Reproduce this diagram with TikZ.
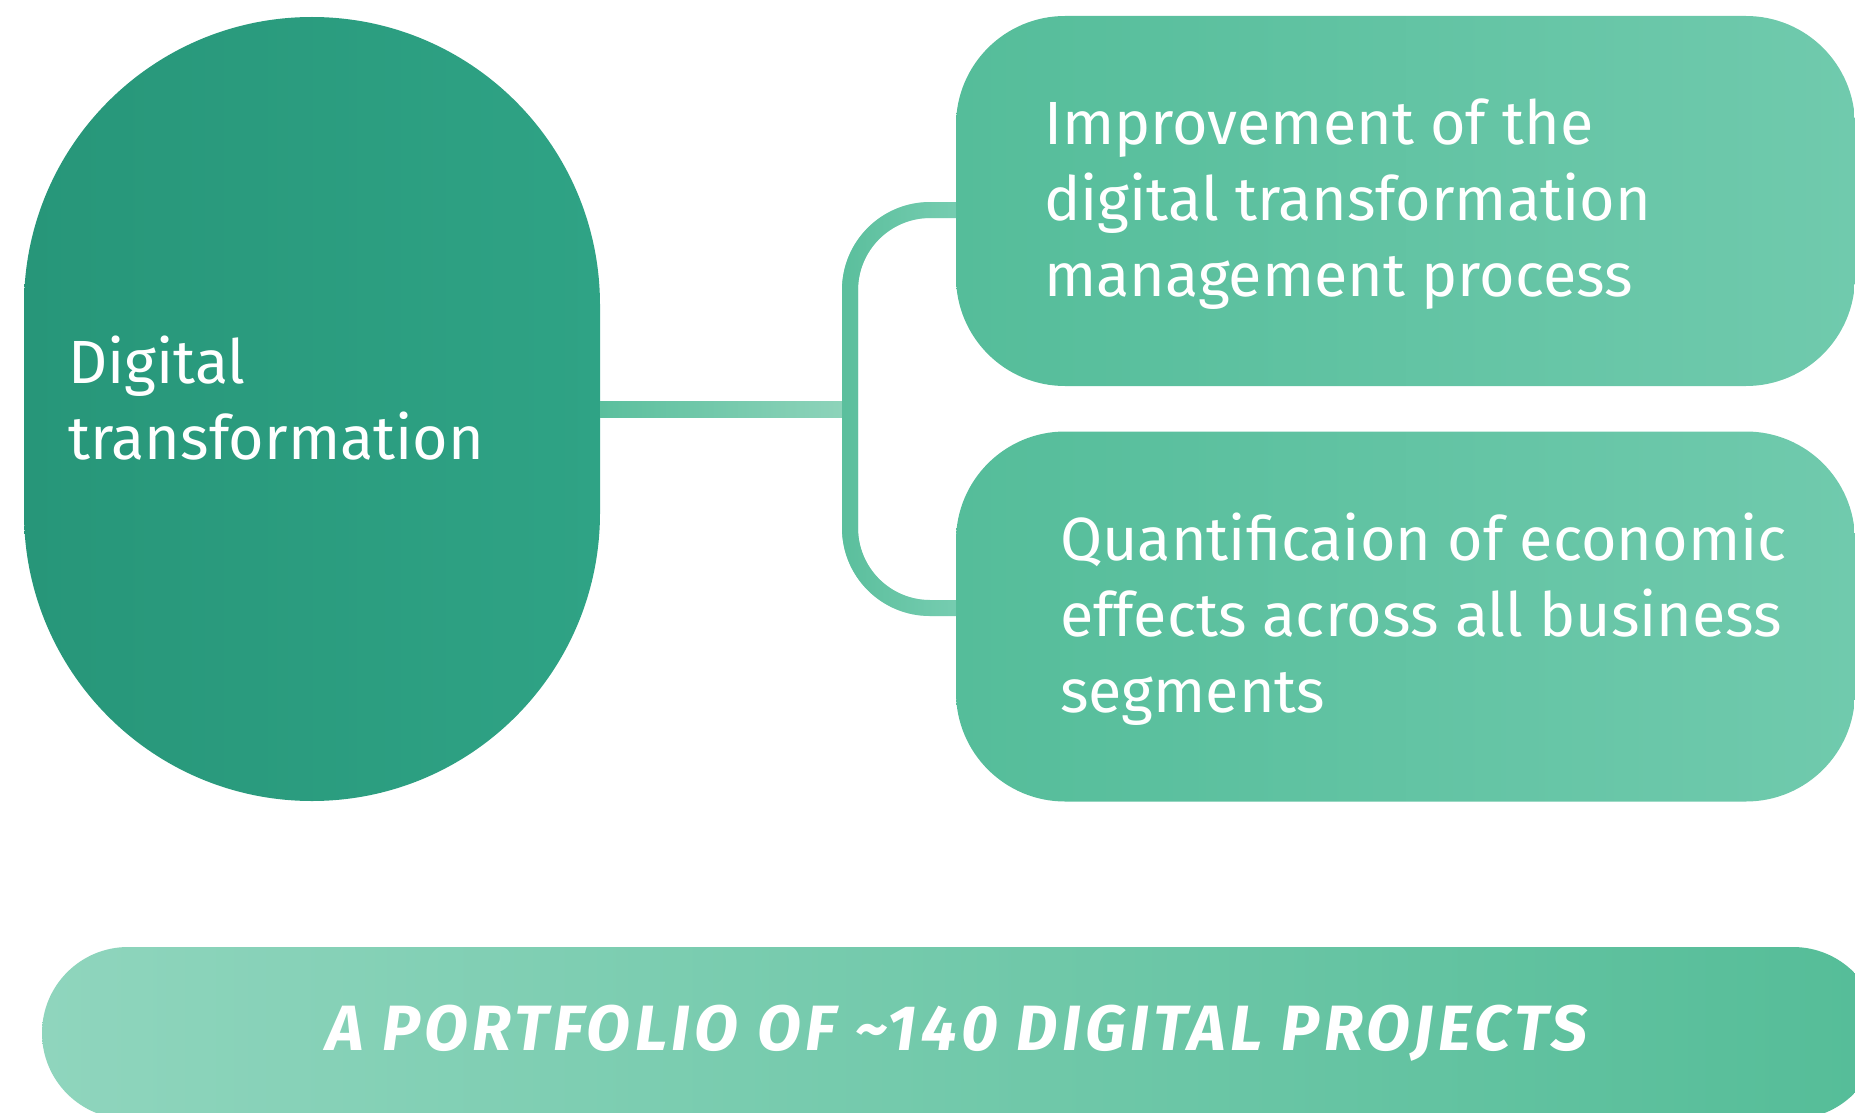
\documentclass[tikz,border=0pt]{standalone}
\usepackage{fontspec}
\setmainfont{Fira Sans}
\usetikzlibrary{fadings}
\definecolor{dtL}{HTML}{279679}
\definecolor{dtR}{HTML}{2FA385}
\definecolor{bxL}{HTML}{55BD9A}
\definecolor{bxR}{HTML}{70CAAD}
\definecolor{bnL}{HTML}{8FD5BD}
\definecolor{bnR}{HTML}{55BD98}
\definecolor{cnDark}{HTML}{5BBF9D}
\definecolor{cnLight}{HTML}{8FD4BB}
\definecolor{brLight}{HTML}{78CEB2}
\tikzfading[name=fadetoeast, left color=transparent!0, right color=transparent!100]
\begin{document}
\begin{tikzpicture}[x=1pt,y=-1pt,
  lbl/.style={text=white, inner sep=0pt, align=left, font=\fontsize{61}{76}\selectfont},
  stadium/.style={rectangle, inner sep=0pt, minimum width=576pt, minimum height=784pt,
    rounded corners=288pt, left color=dtL, right color=dtR},
  infobox/.style={rectangle, inner sep=0pt, minimum width=899pt, minimum height=370pt,
    rounded corners=109pt, left color=bxL, right color=bxR},
  banner/.style={rectangle, inner sep=0pt, minimum width=1837pt, minimum height=172pt,
    rounded corners=86pt, left color=bnL, right color=bnR},
  bracket/.style={line width=16pt, rounded corners=80pt}]
\useasboundingbox (0,0) rectangle (1855,1113);
% shapes
\node[stadium] (dt) at (312,409) {};
\node[infobox] (top) at (1405.5,201) {};
\node[infobox] (bot) at (1405.5,616.5) {};
\begin{scope}
  \clip (0,0) rectangle (1855,1113);
  \node[banner] (bn) at (960.5,1033) {};
\end{scope}
% connectors
\coordinate (j) at (850,409);
\path (top.west) ++(0,9) coordinate (ta);
\path (bot.west) ++(0,-8.5) coordinate (ba);
\shade[left color=cnDark, right color=cnLight] ([yshift=8pt]dt.east) rectangle ([yshift=-8pt]j);
\draw[bracket, draw=brLight] (ta) -| (j) |- (ba);
\draw[bracket, draw=cnDark, path fading=fadetoeast, fit fading=true] (ta) -| (j) |- (ba);
% texts (anchor = baseline of the last line)
\node[lbl, anchor=base west] (dtt) at (68,459) {Digital\\transformation};
\node[lbl, anchor=base west] (topt) at (1044,296) {Improvement of the\\digital transformation\\management process};
\node[lbl, anchor=base west] (bott) at (1060,712) {Quantificaion of economic\\effects across all business\\segments};
\node[text=white, inner sep=0pt, anchor=base, font=\fontsize{64}{64}\selectfont\bfseries\itshape\addfontfeatures{LetterSpace=7}] (bnt) at (957,1050) {A PORTFOLIO OF \textasciitilde140 DIGITAL PROJECTS};
\end{tikzpicture}
\end{document}
